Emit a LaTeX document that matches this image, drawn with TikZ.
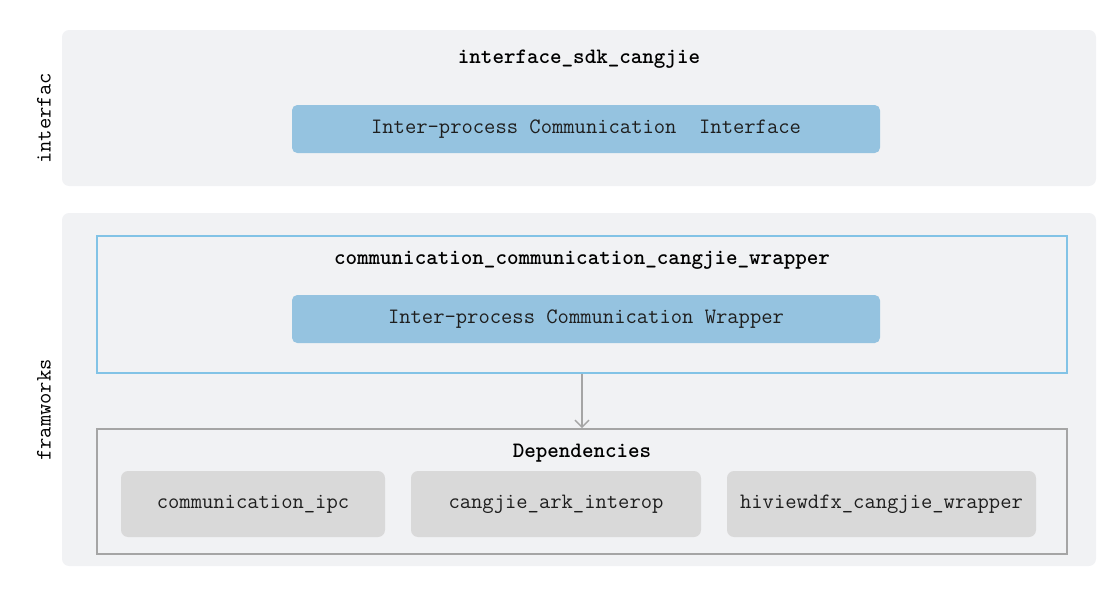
\documentclass[tikz,border=0pt]{standalone}
\usepackage{fontspec}
\usetikzlibrary{arrows.meta}
\definecolor{panelbg}{RGB}{241,242,244}
\definecolor{modblue}{RGB}{149,195,224}
\definecolor{wrapline}{RGB}{130,195,230}
\definecolor{depline}{RGB}{165,165,165}
\definecolor{depbox}{RGB}{217,217,217}
\definecolor{txt}{RGB}{30,30,30}
\tikzset{
  panel/.style={fill=panelbg, rounded corners=4pt, inner sep=0pt},
  modbox/.style={fill=modblue, rounded corners=3pt, minimum height=0.96cm, minimum width=11.76cm, font=\fontsize{12.5}{14}\selectfont\ttfamily, text=txt},
  dep/.style={fill=depbox, rounded corners=4pt, minimum height=1.32cm, font=\fontsize{12.5}{14}\selectfont\ttfamily, text=txt},
  frame/.style={line width=0.9pt, inner sep=0pt},
  title/.style={font=\fontsize{12.5}{14}\selectfont\ttfamily\bfseries},
  side/.style={rotate=90, font=\fontsize{12.5}{14}\selectfont\ttfamily}
}
\begin{document}
\begin{tikzpicture}
\useasboundingbox (0,0) rectangle (22.24,-11.94);

% layers
\node[panel, minimum width=20.68cm, minimum height=3.12cm] (ifpanel) at (11.58,-2.16) {};
\node[panel, minimum width=20.68cm, minimum height=7.06cm] (fwpanel) at (11.58,-7.79) {};
\node[side] (iflabel) at (0.88,-2.37) {interfac};
\node[side] (fwlabel) at (0.88,-8.2) {framworks};

% interface
\node[title] (iftitle) at (11.58,-1.18) {interface\_sdk\_cangjie};
\node[modbox] (ifapi) at (11.72,-2.58) {Inter-process Communication\ \ Interface};

% wrapper
\node[frame, draw=wrapline, minimum width=19.4cm, minimum height=2.74cm] (wrap) at (11.64,-6.09) {};
\node[title] (wraptitle) at (11.64,-5.2) {communication\_communication\_cangjie\_wrapper};
\node[modbox] (wrapapi) at (11.72,-6.38) {Inter-process Communication Wrapper};

% dependencies
\node[frame, draw=depline, minimum width=19.4cm, minimum height=2.5cm] (deps) at (11.64,-9.83) {};
\node[title] (depstitle) at (11.64,-9.06) {Dependencies};
\node[dep, minimum width=5.28cm] (ipc) at (5.06,-10.08) {communication\_ipc};
\node[dep, minimum width=5.8cm] (ark) at (11.12,-10.08) {cangjie\_ark\_interop};
\node[dep, minimum width=6.18cm] (dfx) at (17.63,-10.08) {hiviewdfx\_cangjie\_wrapper};

\draw[depline, line width=0.8pt, -{Straight Barb[length=4pt,width=8pt]}] (wrap.south) -- (deps.north);
\end{tikzpicture}
\end{document}
